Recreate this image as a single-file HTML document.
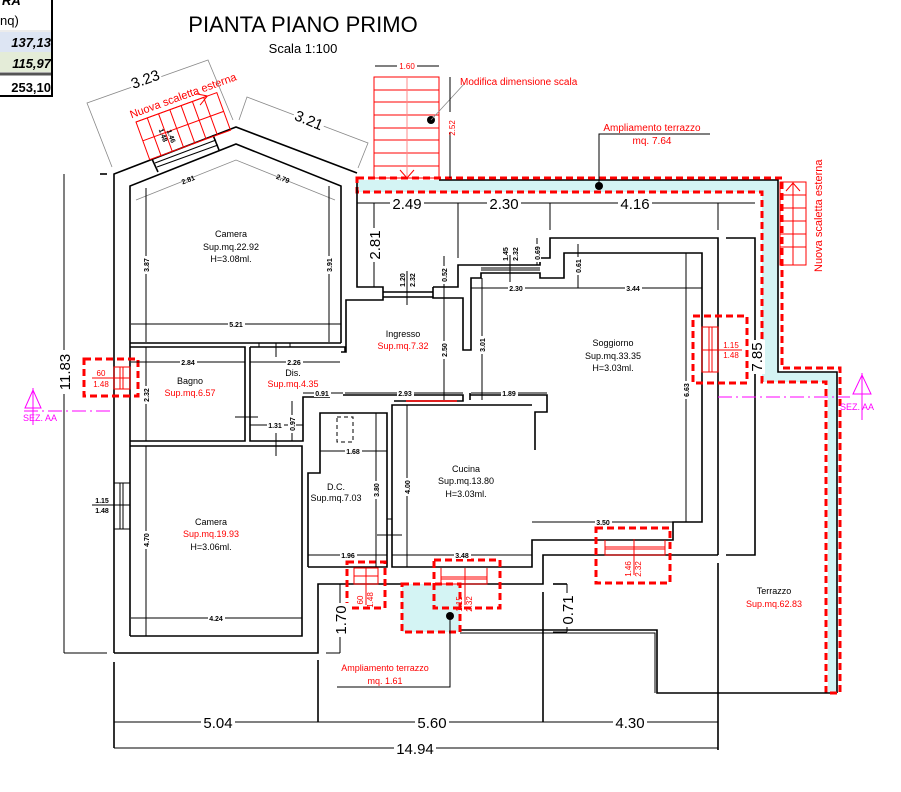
<!DOCTYPE html>
<html><head><meta charset="utf-8"><style>
html,body{margin:0;padding:0;background:#fff;}
svg{display:block;font-family:"Liberation Sans",sans-serif;}
.w{fill:none;stroke:#000;stroke-width:1.6;}
.d{fill:none;stroke:#000;stroke-width:1;}
.g{fill:none;stroke:#888;stroke-width:0.8;}
.r{fill:none;stroke:#f00;stroke-width:1;}
.rd{fill:none;stroke:#f00;stroke-width:3;stroke-dasharray:7,4;}
.m{fill:none;stroke:#f0f;stroke-width:1;}
.t{font-size:9px;fill:#000;text-anchor:middle;}
.tr{font-size:9px;fill:#f00;text-anchor:middle;}
.s{font-size:7px;fill:#000;text-anchor:middle;font-weight:bold;}
.sr{font-size:8px;fill:#f00;text-anchor:middle;}
.big{font-size:15px;fill:#000;text-anchor:middle;}
.bg{fill:#fff;}
</style></head><body>
<svg width="901" height="792" viewBox="0 0 901 792" xmlns="http://www.w3.org/2000/svg">
<rect x="0" y="32" width="52" height="20" fill="#dde5f3"/>
<rect x="0" y="52" width="52" height="20" fill="#e4ecd8"/>
<line x1="0" y1="74" x2="52" y2="74" stroke="#555" stroke-width="3"/>
<line x1="0" y1="31" x2="52" y2="31" stroke="#ccc" stroke-width="0.8"/>
<path d="M52,0 V96 H0" fill="none" stroke="#000" stroke-width="2"/>
<text x="2" y="5" font-size="13" font-weight="bold" font-style="italic">RA</text>
<text x="0" y="25" font-size="13">nq)</text>
<text x="51" y="47" font-size="13" font-weight="bold" font-style="italic" text-anchor="end">137,13</text>
<text x="51" y="68" font-size="13" font-weight="bold" font-style="italic" text-anchor="end">115,97</text>
<text x="51" y="92" font-size="13" font-weight="bold" text-anchor="end">253,10</text>
<text x="303" y="32" font-size="22" text-anchor="middle">PIANTA PIANO PRIMO</text>
<text x="303" y="53" font-size="13" text-anchor="middle">Scala 1:100</text>

<path d="M357,180 H778 V372 H837 V693 H828 V382 H762 V192 H357 Z" fill="#d4f4f4"/>
<rect x="402" y="584" width="58" height="48" fill="#d4f4f4"/>
<path class="w" d="M439,180 H778 V372 H837 V693"/>
<path class="rd" d="M357,178 H782 V368 H840 V693 H826 V382 H762 V192 H357 Z" stroke-width="2.5"/>

<path class="w" d="M114,653 V174 L236,127 L357,173"/>
<line class="w" x1="107" y1="174" x2="100" y2="174"/>
<path class="w" d="M130,636 V186 L236,144 L341,186 V343"/>
<path class="w" d="M114,653 H318 V584 H402"/>
<path class="w" d="M460,584 H543 V555 H718"/>
<path class="w" d="M357,183 V287 H383 V300 H346 V352 H341"/>
<line class="w" x1="152" y1="159" x2="158" y2="172"/>
<line class="w" x1="213" y1="135" x2="219" y2="150"/>
<line class="d" x1="155" y1="163" x2="216" y2="140"/>
<line class="d" x1="157" y1="167" x2="218" y2="145"/>

<path class="w" d="M130,343 H341"/>
<path class="w" d="M130,347 H245 V441 H130"/>
<path class="w" d="M250,347 H345 V352"/>
<path class="w" d="M250,347 V441 H303 V400"/>
<path class="w" d="M130,446 H302 V636 H130"/>
<line class="d" x1="259" y1="343" x2="259" y2="347"/>
<line class="d" x1="290" y1="343" x2="290" y2="347"/>
<line class="d" x1="235" y1="417" x2="258" y2="417"/>
<line class="d" x1="276" y1="433" x2="276" y2="456"/>
<line class="d" x1="276" y1="357" x2="276" y2="343"/>

<path class="w" d="M383,292 H433 M383,297 H433"/>
<path class="w" d="M433,287 H458 V265 H481 M433,287 V298 H463 V350 H471 V278 H481 V273 H540 V278 H564 V253 H702 V522 H673 V540 H605"/>
<path class="w" d="M481,265 H540 V258 H550 V238 H718 V555"/>
<line class="d" x1="481" y1="268" x2="540" y2="268"/>
<line class="d" x1="481" y1="270" x2="540" y2="270"/>
<path class="w" d="M726,238 H755 V555 H726"/>
<line class="w" x1="718" y1="563" x2="718" y2="750"/>
<path class="w" d="M303,400 V397 H330"/>
<path class="w" d="M343,395 H463 V401 H394 M470,393 V400 M470,395 H547 V412 H535 V450 M532,405 H392 V567 H532 V540 H605"/>
<line x1="406" y1="401" x2="457" y2="401" stroke="#f00" stroke-width="1.6"/>
<path class="w" d="M308,567 V473 H320 V413 H387 V567 H308"/>
<rect x="337" y="417" width="16" height="25" fill="none" stroke="#000" stroke-width="1" stroke-dasharray="4,3"/>
<line class="d" x1="377" y1="535" x2="402" y2="535"/>
<line class="d" x1="387" y1="519" x2="392" y2="519"/>

<path class="w" d="M460,630 H657 V693 H830"/>
<path class="d" d="M460,633 H655 V693"/>
<line class="w" x1="543" y1="592" x2="543" y2="722"/>
<line class="w" x1="318" y1="660" x2="318" y2="722"/>
<line class="w" x1="114" y1="662" x2="114" y2="748"/>
<line class="w" x1="553" y1="584" x2="567" y2="584"/>

<rect class="rd" x="84" y="359" width="54" height="37" stroke-width="2.5"/>
<rect class="r" x="114" y="367" width="16" height="22"/>
<line class="r" x1="120" y1="367" x2="120" y2="389"/><line class="r" x1="123" y1="367" x2="123" y2="389"/>
<line class="r" x1="92" y1="378" x2="130" y2="378"/>
<text class="sr" x="101" y="376">60</text><text class="sr" x="101" y="387">1.48</text>
<rect class="rd" x="693" y="316" width="54" height="67" stroke-width="2.5"/>
<rect class="r" x="702" y="327" width="16" height="45"/>
<line class="r" x1="709" y1="327" x2="709" y2="372"/><line class="r" x1="712" y1="327" x2="712" y2="372"/>
<line class="r" x1="702" y1="350" x2="742" y2="350"/>
<text class="sr" x="731" y="348">1.15</text><text class="sr" x="731" y="358">1.48</text>
<rect class="rd" x="596" y="528" width="74" height="55" stroke-width="2.5"/>
<path class="r" d="M605,540 V555 H665 V540 M605,547 H665 M605,549 H665 M634,539 V575"/>
<text class="sr" transform="translate(631,569) rotate(-90)">1.46</text><text class="sr" transform="translate(641,569) rotate(-90)">2.32</text>
<rect class="rd" x="347" y="562" width="38" height="46" stroke-width="2.5"/>
<path class="r" d="M354,568 H378 V584 H354 Z M354,576 H378 M366,568 V605"/>
<text class="sr" transform="translate(363,600) rotate(-90)">60</text><text class="sr" transform="translate(373,600) rotate(-90)">1.48</text>
<rect class="rd" x="434" y="560" width="66" height="48" stroke-width="2.5"/>
<path class="r" d="M441,568 V584 H487 V568 M441,577 H487 M441,579 H487 M465,568 V605"/>
<text class="sr" transform="translate(462,604) rotate(-90)">1.15</text><text class="sr" transform="translate(472,604) rotate(-90)">2.32</text>
<rect class="rd" x="402" y="584" width="58" height="48" stroke-width="2.5"/>
<circle cx="450" cy="616" r="4"/>
<path class="d" d="M450,616 V687 H337"/>

<rect class="d" x="114" y="483" width="16" height="46"/>
<line class="d" x1="120" y1="483" x2="120" y2="529"/><line class="d" x1="123" y1="483" x2="123" y2="529"/>
<line class="d" x1="92" y1="505" x2="130" y2="505"/>
<text class="s" x="102" y="503" font-size="8">1.15</text><text class="s" x="102" y="513" font-size="8">1.48</text>

<rect class="r" x="374" y="77" width="65" height="101"/>
<g class="r">
<line x1="374" y1="90" x2="439" y2="90"/><line x1="374" y1="102" x2="439" y2="102"/><line x1="374" y1="115" x2="439" y2="115"/><line x1="374" y1="128" x2="439" y2="128"/><line x1="374" y1="140" x2="439" y2="140"/><line x1="374" y1="153" x2="439" y2="153"/><line x1="374" y1="166" x2="439" y2="166"/>
<line x1="407" y1="77" x2="407" y2="178" stroke="#f88"/>
<path d="M400,170 L407,178 L414,170"/>
</g>
<path class="d" d="M375,66 H439"/><rect class="bg" x="397" y="61" width="20" height="9"/><text class="sr" x="407" y="69" font-size="7">1.60</text>
<circle cx="431" cy="120" r="4"/>
<line class="g" x1="431" y1="120" x2="465" y2="83"/>
<text x="460" y="85" font-size="10" fill="#f00">Modifica dimensione scala</text>
<line class="d" x1="450" y1="77" x2="450" y2="178"/>
<rect class="bg" x="446" y="112" width="9" height="20"/>
<text class="sr" transform="translate(455,128) rotate(-90)">2.52</text>
<circle cx="599" cy="186" r="4"/>
<path class="d" d="M599,186 V134 H710"/>
<text x="652" y="131" font-size="10" fill="#f00" text-anchor="middle">Ampliamento terrazzo</text>
<text x="652" y="144" font-size="10" fill="#f00" text-anchor="middle">mq. 7.64</text>

<rect class="r" x="780" y="182" width="26" height="83"/>
<g class="r"><line x1="780" y1="195" x2="806" y2="195"/><line x1="780" y1="208" x2="806" y2="208"/><line x1="780" y1="221" x2="806" y2="221"/><line x1="780" y1="234" x2="806" y2="234"/><line x1="780" y1="247" x2="806" y2="247"/><line x1="793" y1="182" x2="793" y2="265"/><path d="M786,191 L793,183 L800,191"/></g>
<text transform="translate(822,272) rotate(-90)" font-size="11" fill="#f00">Nuova scaletta esterna</text>

<g transform="translate(136,122) rotate(-20)">
<rect class="r" x="0" y="0" width="86" height="40"/>
<g class="r"><line x1="0" y1="20" x2="86" y2="20"/><line x1="12" y1="0" x2="12" y2="40"/><line x1="24" y1="0" x2="24" y2="40"/><line x1="36" y1="0" x2="36" y2="40"/><line x1="48" y1="0" x2="48" y2="40"/><line x1="60" y1="0" x2="60" y2="40"/><line x1="72" y1="0" x2="72" y2="40"/><path d="M66,-6 L76,0 L66,6 M0,0 L76,0"/></g>
<text x="-3" y="-5" font-size="11" fill="#f00">Nuova scaletta esterna</text>
</g>
<text class="s" transform="translate(169,137) rotate(70)">1.46</text>
<text class="s" transform="translate(161,136) rotate(70)">1.48</text>
<path class="g" d="M112,167 L87,103 L208,60 L233,120"/>
<g transform="translate(147,84) rotate(-20)"><rect class="bg" x="-16" y="-13" width="32" height="16"/><text class="big" x="0" y="0">3.23</text></g>
<path class="g" d="M239,120 L247,97 L368,143 L358,168"/>
<g transform="translate(307,125) rotate(22)"><rect class="bg" x="-16" y="-13" width="32" height="16"/><text class="big" x="0" y="0">3.21</text></g>

<path class="g" d="M136,200 L236,160 L335,200"/>
<text class="s" transform="translate(189,182) rotate(-21)" fill="#036">2.81</text>
<text class="s" transform="translate(282,181) rotate(21)" fill="#036">2.79</text>
<line class="d" x1="146" y1="188" x2="146" y2="342"/><rect class="bg" x="142" y="256" width="8" height="18"/><text class="s" transform="translate(149,265) rotate(-90)">3.87</text>
<line class="d" x1="329" y1="186" x2="329" y2="342"/><rect class="bg" x="325" y="256" width="8" height="18"/><text class="s" transform="translate(332,265) rotate(-90)">3.91</text>
<line class="d" x1="131" y1="324" x2="341" y2="324"/><rect class="bg" x="228" y="320" width="17" height="8"/><text class="s" x="236" y="327">5.21</text>
<line class="d" x1="131" y1="362" x2="245" y2="362"/><rect class="bg" x="180" y="358" width="17" height="8"/><text class="s" x="188" y="365">2.84</text>
<line class="d" x1="146" y1="347" x2="146" y2="441"/><rect class="bg" x="142" y="386" width="8" height="18"/><text class="s" transform="translate(149,395) rotate(-90)">2.32</text>
<line class="d" x1="250" y1="362" x2="340" y2="362"/><rect class="bg" x="286" y="358" width="17" height="8"/><text class="s" x="294" y="365">2.26</text>
<line class="d" x1="250" y1="425" x2="303" y2="425"/><rect class="bg" x="267" y="421" width="17" height="8"/><text class="s" x="275" y="428">1.31</text>
<line class="d" x1="292" y1="401" x2="292" y2="441"/><rect class="bg" x="288" y="415" width="8" height="18"/><text class="s" transform="translate(295,424) rotate(-90)">0.97</text>
<line class="d" x1="303" y1="393" x2="343" y2="393"/><rect class="bg" x="314" y="389" width="17" height="8"/><text class="s" x="322" y="396">0.91</text>
<line class="d" x1="345" y1="393" x2="463" y2="393"/><rect class="bg" x="397" y="389" width="17" height="8"/><text class="s" x="405" y="396">2.93</text>
<line class="d" x1="471" y1="393" x2="547" y2="393"/><rect class="bg" x="501" y="389" width="17" height="8"/><text class="s" x="509" y="396">1.89</text>
<line class="d" x1="444" y1="256" x2="444" y2="400"/><rect class="bg" x="440" y="266" width="8" height="18"/><text class="s" transform="translate(447,275) rotate(-90)">0.52</text><rect class="bg" x="440" y="341" width="8" height="18"/><text class="s" transform="translate(447,350) rotate(-90)">2.50</text>
<line class="d" x1="482" y1="278" x2="482" y2="400"/><rect class="bg" x="478" y="336" width="8" height="18"/><text class="s" transform="translate(485,345) rotate(-90)">3.01</text>
<line class="d" x1="407" y1="271" x2="407" y2="305"/><text class="s" transform="translate(405,280) rotate(-90)" font-size="8">1.20</text><text class="s" transform="translate(415,280) rotate(-90)" font-size="8">2.32</text>
<line class="d" x1="510" y1="255" x2="510" y2="282"/><text class="s" transform="translate(508,254) rotate(-90)" font-size="8">1.45</text><text class="s" transform="translate(518,254) rotate(-90)" font-size="8">2.32</text>
<line class="d" x1="537" y1="238" x2="537" y2="265"/><rect class="bg" x="533" y="244" width="8" height="18"/><text class="s" transform="translate(540,253) rotate(-90)">0.69</text>
<line class="d" x1="578" y1="244" x2="578" y2="288"/><rect class="bg" x="574" y="257" width="8" height="18"/><text class="s" transform="translate(581,266) rotate(-90)">0.61</text>
<line class="d" x1="471" y1="288" x2="702" y2="288"/><rect class="bg" x="508" y="284" width="17" height="8"/><text class="s" x="516" y="291">2.30</text><rect class="bg" x="625" y="284" width="17" height="8"/><text class="s" x="633" y="291">3.44</text>
<line class="d" x1="686" y1="253" x2="686" y2="522"/><rect class="bg" x="682" y="381" width="8" height="18"/><text class="s" transform="translate(689,390) rotate(-90)">6.63</text>
<line class="d" x1="532" y1="522" x2="673" y2="522"/><rect class="bg" x="595" y="518" width="17" height="8"/><text class="s" x="603" y="525">3.50</text>
<line class="d" x1="320" y1="451" x2="387" y2="451"/><rect class="bg" x="345" y="447" width="17" height="8"/><text class="s" x="353" y="454">1.68</text>
<line class="d" x1="376" y1="413" x2="376" y2="567"/><rect class="bg" x="372" y="481" width="8" height="18"/><text class="s" transform="translate(379,490) rotate(-90)">3.80</text>
<line class="d" x1="308" y1="555" x2="387" y2="555"/><rect class="bg" x="340" y="551" width="17" height="8"/><text class="s" x="348" y="558">1.96</text>
<line class="d" x1="407" y1="405" x2="407" y2="567"/><rect class="bg" x="403" y="478" width="8" height="18"/><text class="s" transform="translate(410,487) rotate(-90)">4.00</text>
<line class="d" x1="392" y1="555" x2="532" y2="555"/><rect class="bg" x="454" y="551" width="17" height="8"/><text class="s" x="462" y="558">3.48</text>
<line class="d" x1="146" y1="446" x2="146" y2="636"/><rect class="bg" x="142" y="531" width="8" height="18"/><text class="s" transform="translate(149,540) rotate(-90)">4.70</text>
<line class="d" x1="131" y1="618" x2="302" y2="618"/><rect class="bg" x="208" y="614" width="17" height="8"/><text class="s" x="216" y="621">4.24</text>

<line class="d" x1="64" y1="174" x2="64" y2="653"/>
<line class="d" x1="64" y1="653" x2="107" y2="653"/>
<g transform="translate(70,372) rotate(-90)"><rect class="bg" x="-22" y="-13" width="44" height="16"/><text class="big" x="0" y="0">11.83</text></g>
<line class="d" x1="357" y1="203" x2="755" y2="203"/>
<line class="d" x1="458" y1="203" x2="458" y2="258"/><line class="d" x1="550" y1="203" x2="550" y2="230"/><line class="d" x1="718" y1="203" x2="718" y2="230"/>
<rect class="bg" x="390" y="195" width="34" height="16"/><text class="big" x="407" y="209">2.49</text>
<rect class="bg" x="487" y="195" width="34" height="16"/><text class="big" x="504" y="209">2.30</text>
<rect class="bg" x="618" y="195" width="34" height="16"/><text class="big" x="635" y="209">4.16</text>
<line class="d" x1="374" y1="203" x2="374" y2="287"/>
<g transform="translate(380,245) rotate(-90)"><rect class="bg" x="-17" y="-13" width="34" height="16"/><text class="big" x="0" y="0">2.81</text></g>
<g transform="translate(762,357) rotate(-90)"><rect class="bg" x="-17" y="-13" width="34" height="16"/><text class="big" x="0" y="0">7.85</text></g>
<line class="d" x1="567" y1="584" x2="567" y2="632"/><line class="d" x1="553" y1="632" x2="567" y2="632"/>
<g transform="translate(573,610) rotate(-90)"><rect class="bg" x="-17" y="-13" width="34" height="16"/><text class="big" x="0" y="0">0.71</text></g>
<line class="d" x1="340" y1="584" x2="340" y2="653"/><line class="d" x1="326" y1="653" x2="340" y2="653"/>
<g transform="translate(346,620) rotate(-90)"><rect class="bg" x="-17" y="-13" width="34" height="16"/><text class="big" x="0" y="0">1.70</text></g>
<line class="d" x1="114" y1="722" x2="718" y2="722"/>
<rect class="bg" x="201" y="714" width="34" height="16"/><text class="big" x="218" y="728">5.04</text>
<rect class="bg" x="415" y="714" width="34" height="16"/><text class="big" x="432" y="728">5.60</text>
<rect class="bg" x="613" y="714" width="34" height="16"/><text class="big" x="630" y="728">4.30</text>
<line class="d" x1="114" y1="748" x2="718" y2="748"/>
<rect class="bg" x="394" y="740" width="42" height="16"/><text class="big" x="415" y="754">14.94</text>

<text class="t" x="231" y="237">Camera</text><text class="t" x="231" y="250">Sup.mq.22.92</text><text class="t" x="231" y="262">H=3.08ml.</text>
<text class="t" x="403" y="337">Ingresso</text><text class="tr" x="403" y="349">Sup.mq.7.32</text>
<text class="t" x="613" y="346">Soggiorno</text><text class="t" x="613" y="359">Sup.mq.33.35</text><text class="t" x="613" y="371">H=3.03ml.</text>
<text class="t" x="190" y="384">Bagno</text><text class="tr" x="190" y="396">Sup.mq.6.57</text>
<text class="t" x="293" y="376" font-size="8">Dis.</text><text class="tr" x="293" y="387" font-size="8">Sup.mq.4.35</text>
<text class="t" x="466" y="472">Cucina</text><text class="t" x="466" y="484">Sup.mq.13.80</text><text class="t" x="466" y="497">H=3.03ml.</text>
<text class="t" x="336" y="490" font-size="8">D.C.</text><text class="t" x="336" y="501" font-size="8">Sup.mq.7.03</text>
<text class="t" x="211" y="525">Camera</text><text class="tr" x="211" y="537">Sup.mq.19.93</text><text class="t" x="211" y="550">H=3.06ml.</text>
<text class="t" x="774" y="594">Terrazzo</text><text class="tr" x="774" y="607">Sup.mq.62.83</text>
<text x="385" y="671" font-size="9" fill="#f00" text-anchor="middle">Ampliamento terrazzo</text>
<text x="385" y="684" font-size="9" fill="#f00" text-anchor="middle">mq. 1.61</text>

<line class="m" x1="24" y1="411" x2="114" y2="411" stroke-dasharray="14,4,2,4"/>
<path class="m" d="M25,408 L33,390 L41,408 Z M33,388 V425"/>
<text x="23" y="421" font-size="9" fill="#f0f">SEZ.  AA</text>
<line class="m" x1="718" y1="397" x2="850" y2="397" stroke-dasharray="14,4,2,4"/>
<path class="m" d="M853,394 L862,375 L871,394 Z M862,373 V420"/>
<text x="840" y="410" font-size="9" fill="#f0f">SEZ.  AA</text>
</svg>
</body></html>
